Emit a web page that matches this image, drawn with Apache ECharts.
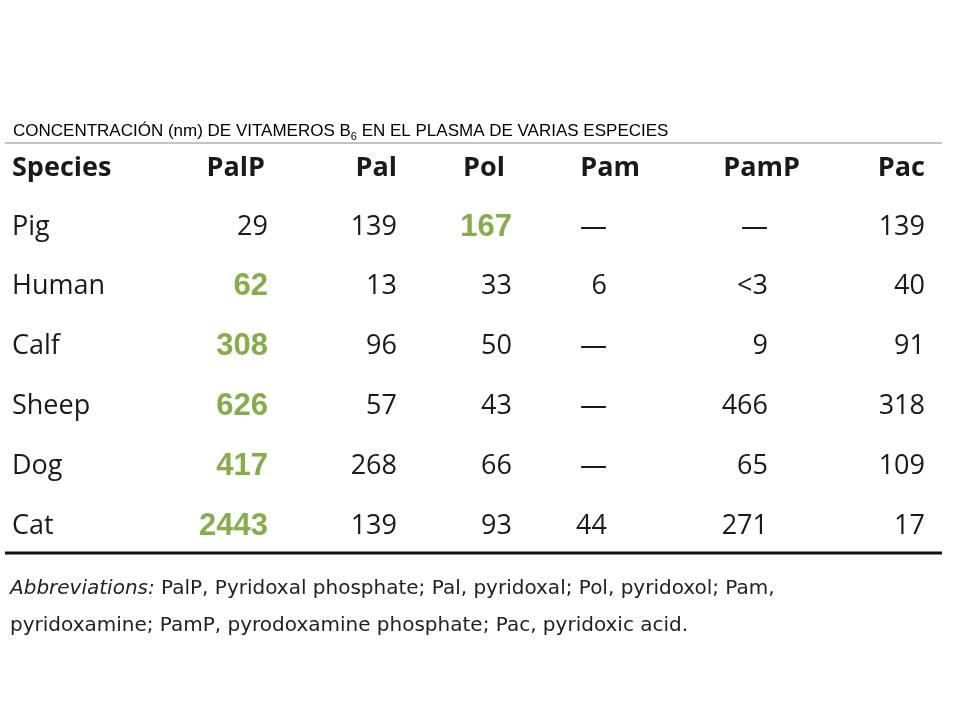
<!DOCTYPE html>
<html><head><meta charset="utf-8">
<script src="https://cdn.jsdelivr.net/npm/echarts@6/dist/echarts.min.js"></script>
<style>html,body{margin:0;background:#fff}#c{width:960px;height:720px}</style>
</head><body><div id="c"></div>
<script>
// Table content
var headers = ['Species', 'PalP', 'Pal', 'Pol', 'Pam', 'PamP', 'Pac'];
var species = ['Pig', 'Human', 'Calf', 'Sheep', 'Dog', 'Cat'];
var palp = ['29', '62', '308', '626', '417', '2443'];
var pal = ['139', '13', '96', '57', '268', '139'];
var pol = ['167', '33', '50', '43', '66', '93'];
var pam = ['—', '6', '—', '—', '—', '44'];
var pamp = ['—', '<3', '9', '466', '65', '271'];
var pac = ['139', '40', '91', '318', '109', '17'];
// highlighted cells [row, col]
var highlight = [[0, 3], [1, 1], [2, 1], [3, 1], [4, 1], [5, 1]];

// layout
var colRight = [12, 268, 397, 512, 607, 768, 925];
var headX = [12, 265, 397, 505, 640, 800, 925];
var rowY = [227, 286, 346, 406, 466, 526];
var headY = 168;

var cols = [species, palp, pal, pol, pam, pamp, pac];
var cells = [];
headers.forEach(function (h, c) {
    cells.push({ value: [headX[c], headY], text: h, align: c ? 'right' : 'left', kind: 'head' });
});
species.forEach(function (s, r) {
    cols.forEach(function (col, c) {
        var hl = highlight.some(function (p) { return p[0] === r && p[1] === c; });
        cells.push({ value: [colRight[c], rowY[r]], text: col[r], align: c ? 'right' : 'left', kind: hl ? 'hl' : 'cell' });
    });
});

var chart = echarts.init(document.getElementById('c'));
chart.setOption({
    animation: false,
    title: {
        left: 8, top: 116,
        text: '{a|CONCENTRACIÓN (nm) DE VITAMEROS B}{s|6}{a| EN EL PLASMA DE VARIAS ESPECIES}',
        textStyle: {
            fontWeight: 'normal',
            rich: {
                a: { fontFamily: 'Liberation Sans', fontSize: 17, fontWeight: 'normal', color: '#000' },
                s: { fontFamily: 'Liberation Sans', fontSize: 11, fontWeight: 'normal', color: '#000', verticalAlign: 'bottom', padding: [10, 0, 0, 0] }
            }
        }
    },
    grid: { left: 0, right: 0, top: 0, bottom: 0 },
    xAxis: { type: 'value', min: 0, max: 960, show: false },
    yAxis: { type: 'value', min: 0, max: 720, inverse: true, show: false },
    series: [{
        type: 'scatter',
        symbolSize: 0,
        itemStyle: { opacity: 1 },
        data: cells.map(function (d) {
            var style = {
                head: { fontWeight: 'bold', color: '#1a1a1a', fontFamily: 'Open Sans', fontSize: 27 },
                cell: { fontWeight: 'normal', color: '#1a1a1a', fontFamily: 'Open Sans', fontSize: 27 },
                hl: { fontWeight: 'bold', color: '#85ad48', fontFamily: 'Liberation Sans', fontSize: 31 }
            }[d.kind];
            return {
                value: d.value,
                label: Object.assign({ show: true, position: 'inside', align: d.align, verticalAlign: 'middle', opacity: 1, formatter: d.text }, style)
            };
        })
    }],
    graphic: [
        { type: 'line', shape: { x1: 5, y1: 143, x2: 942, y2: 143 }, style: { stroke: '#888', lineWidth: 1 } },
        { type: 'line', shape: { x1: 5, y1: 553, x2: 942, y2: 553 }, style: { stroke: '#111', lineWidth: 3 } },
        { type: 'text', left: 10, top: 579, style: { text: '{i|Abbreviations:} PalP, Pyridoxal phosphate; Pal, pyridoxal; Pol, pyridoxol; Pam,', fill: '#222', font: '20px "DejaVu Sans"', rich: { i: { fontStyle: 'italic', fontSize: 20, fontFamily: 'DejaVu Sans', fill: '#222' } } } },
        { type: 'text', left: 10, top: 616, style: { text: 'pyridoxamine; PamP, pyrodoxamine phosphate; Pac, pyridoxic acid.', fill: '#222', font: '20px "DejaVu Sans"' } }
    ]
});
</script></body></html>
